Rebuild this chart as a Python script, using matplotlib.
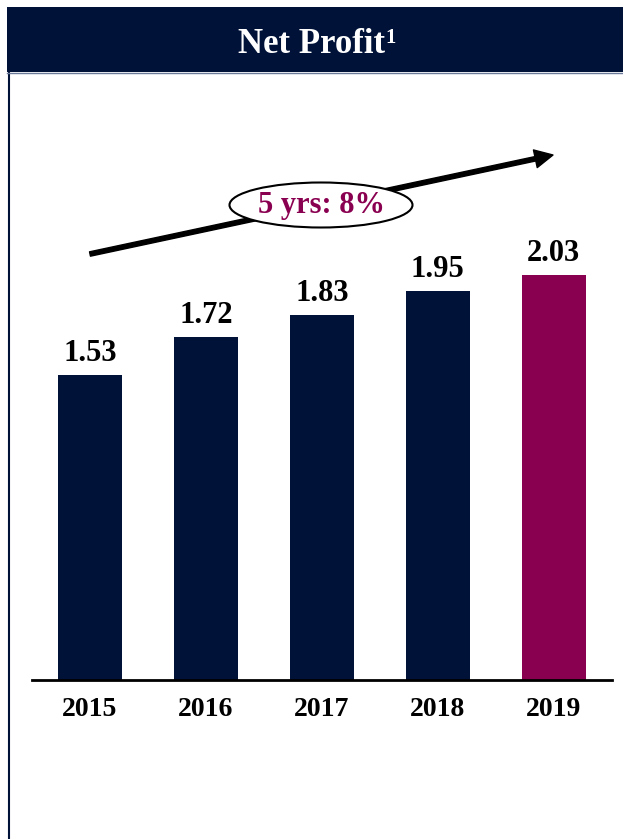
import matplotlib.pyplot as plt
from matplotlib.patches import Rectangle, Ellipse

# --- data ---
years = ["2015", "2016", "2017", "2018", "2019"]
net_profit = [1.53, 1.72, 1.83, 1.95, 2.03]
cagr_label = "5 yrs: 8%"

NAVY = "#001238"
MAROON = "#8A0050"
bar_colors = [NAVY, NAVY, NAVY, NAVY, MAROON]

W, H = 623, 839
fig = plt.figure(figsize=(W / 100, H / 100), dpi=100)
plt.rcParams['font.family'] = ['Liberation Serif', 'DejaVu Serif']

# overlay axes in pixel coords for frame / header / arrow
ov = fig.add_axes([0, 0, 1, 1])
ov.set_xlim(0, W)
ov.set_ylim(H, 0)
ov.axis('off')
ov.add_patch(Rectangle((7, 7), W - 7, 65, facecolor=NAVY, edgecolor='none'))
ov.plot([8.5, 8.5], [72, H], color=NAVY, lw=1.5)
ov.plot([7, W], [72.5, 72.5], color="#6b7a99", lw=1)
ov.text(311, 53, "Net Profit", color='white', fontsize=25,
        fontweight='bold', ha='center', va='baseline')
ov.text(385, 28, "1", color='white', fontsize=15,
        fontweight='bold', ha='left', va='top')

# bar axes: y=0 at pixel 680, 199.5 px per unit
px_per_unit = 199.5
ytop = 2.6
ax = fig.add_axes([32 / W, (H - 680) / H, (612 - 32) / W, ytop * px_per_unit / H])
ax.set_zorder(2)
ax.patch.set_alpha(0)
x = list(range(len(years)))
bars = ax.bar(x, net_profit, width=64 / 116, color=bar_colors)
ax.set_xlim(-(90 - 32) / 116, 4 + (612 - 553.5) / 116)
ax.set_ylim(0, ytop)
for s in ['top', 'right', 'left']:
    ax.spines[s].set_visible(False)
ax.spines['bottom'].set_linewidth(2)
ax.spines['bottom'].set_color('black')
ax.set_yticks([])
ax.set_xticks(x)
ax.set_xticklabels(years, fontsize=20, fontweight='bold')
ax.tick_params(axis='x', length=0, pad=12)
for xi, v in zip(x, net_profit):
    ax.text(xi, v + 0.035, f"{v:.2f}", ha='center', va='bottom', fontsize=22, fontweight='bold')

# growth arrow with CAGR bubble
ov.set_zorder(3)
ov.annotate("", xy=(553, 155), xytext=(90, 254),
            arrowprops=dict(width=3.2, headwidth=13, headlength=13, color='black',
                            shrink=0))
ov.add_patch(Ellipse((321, 205), 183, 45, facecolor='white', edgecolor='black', lw=1.5, zorder=5))
ov.text(321, 206, cagr_label, color=MAROON, fontsize=22, fontweight='bold',
        ha='center', va='center', zorder=6)

fig.savefig("out.png", dpi=100)
